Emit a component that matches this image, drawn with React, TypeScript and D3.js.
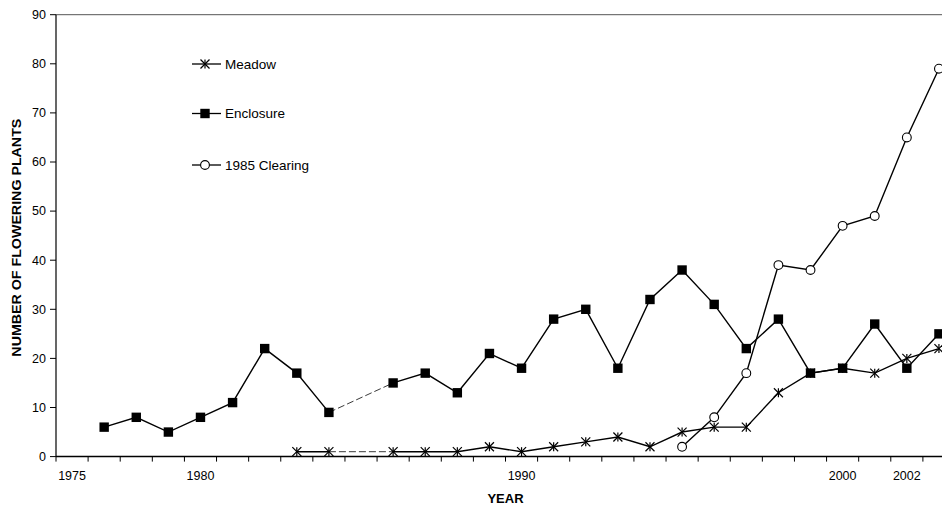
import React from "react";
import * as d3 from "d3";

const categoryCount = 28;
const tickLabels: { index: number; label: string }[] = [
  { index: 0, label: "1975" },
  { index: 4, label: "1980" },
  { index: 14, label: "1990" },
  { index: 24, label: "2000" },
  { index: 26, label: "2002" },
];

const meadow: [number, number][] = [
  [7, 1], [8, 1], [10, 1], [11, 1], [12, 1], [13, 2], [14, 1], [15, 2], [16, 3],
  [17, 4], [18, 2], [19, 5], [20, 6], [21, 6], [22, 13], [23, 17], [24, 18],
  [25, 17], [26, 20], [27, 22],
];
const enclosure: [number, number][] = [
  [1, 6], [2, 8], [3, 5], [4, 8], [5, 11], [6, 22], [7, 17], [8, 9], [10, 15],
  [11, 17], [12, 13], [13, 21], [14, 18], [15, 28], [16, 30], [17, 18], [18, 32],
  [19, 38], [20, 31], [21, 22], [22, 28], [23, 17], [24, 18], [25, 27], [26, 18],
  [27, 25],
];
const clearing: [number, number][] = [
  [19, 2], [20, 8], [21, 17], [22, 39], [23, 38], [24, 47], [25, 49], [26, 65], [27, 79],
];
const yTicks = [0, 10, 20, 30, 40, 50, 60, 70, 80, 90];
const legendItems = ["Meadow", "Enclosure", "1985 Clearing"];

const W = 942;
const H = 508;
const left = 56;
const plotRight = 955;
const top = 14.7;
const bottom = 456.6;
const font = "Arial, 'Liberation Sans', sans-serif";

const x = d3.scaleBand<number>().domain(d3.range(categoryCount)).range([left, plotRight]).padding(0);
const cx = (i: number) => (x(i) as number) + x.bandwidth() / 2;
const y = d3.scaleLinear().domain([0, 90]).range([bottom, top]);

function segments(data: [number, number][]) {
  const solid: [number, number][][] = [];
  const dashed: [number, number][][] = [];
  let cur: [number, number][] = [];
  data.forEach((d, k) => {
    if (k > 0 && d[0] - data[k - 1][0] > 1) {
      solid.push(cur);
      dashed.push([data[k - 1], d]);
      cur = [];
    }
    cur.push(d);
  });
  solid.push(cur);
  return { solid, dashed };
}

const line = d3.line<[number, number]>().x((d) => cx(d[0])).y((d) => y(d[1]));

function Star({ px, py }: { px: number; py: number }) {
  const s = 4.5;
  return (
    <g stroke="#000" strokeWidth={1.2}>
      <line x1={px - s} y1={py - s} x2={px + s} y2={py + s} />
      <line x1={px - s} y1={py + s} x2={px + s} y2={py - s} />
      <line x1={px} y1={py - s} x2={px} y2={py + s} />
    </g>
  );
}
function Square({ px, py }: { px: number; py: number }) {
  return <rect x={px - 4.7} y={py - 4.7} width={9.4} height={9.4} fill="#000" />;
}
function Circ({ px, py }: { px: number; py: number }) {
  return <circle cx={px} cy={py} r={4.4} fill="#fff" stroke="#000" strokeWidth={1.1} />;
}

function Series({ data, Marker }: { data: [number, number][]; Marker: any }) {
  const { solid, dashed } = segments(data);
  return (
    <g>
      {dashed.map((s, i) => (
        <path key={"d" + i} d={line(s) || ""} fill="none" stroke="#222" strokeWidth={0.9} strokeDasharray="7,3" />
      ))}
      {solid.map((s, i) => (
        <path key={"s" + i} d={line(s) || ""} fill="none" stroke="#000" strokeWidth={1.4} />
      ))}
      {data.map((d, i) => (
        <Marker key={i} px={cx(d[0])} py={y(d[1])} />
      ))}
    </g>
  );
}

export default function App() {
  const markers = [Star, Square, Circ];
  const legendY = [64, 113.5, 165];
  return (
    <svg width={W} height={H} style={{ position: "fixed", left: 0, top: 0, background: "#fff" }} fontFamily={font}>
      <rect x={0} y={0} width={W} height={H} fill="#fff" />
      <line x1={left} y1={top} x2={plotRight} y2={top} stroke="#555" strokeWidth={1} />
      <line x1={plotRight} y1={top} x2={plotRight} y2={bottom} stroke="#555" strokeWidth={1} />
      <line x1={left} y1={top} x2={left} y2={bottom} stroke="#000" strokeWidth={1.2} />
      {yTicks.map((t) => (
        <g key={t}>
          <line x1={left - 6} x2={left} y1={y(t)} y2={y(t)} stroke="#000" strokeWidth={1} />
          <text x={left - 10} y={y(t)} dy="0.35em" textAnchor="end" fontSize={12.5} fill="#000">
            {t}
          </text>
        </g>
      ))}
      <line x1={left} y1={bottom} x2={plotRight} y2={bottom} stroke="#000" strokeWidth={1.5} />
      {d3.range(categoryCount + 1).map((i) => {
        const px = left + i * x.bandwidth();
        return <line key={i} x1={px} x2={px} y1={bottom} y2={bottom + 5} stroke="#000" strokeWidth={1} />;
      })}
      {tickLabels.map((t) => (
        <text key={t.label} x={cx(t.index)} y={bottom + 19.5} dy="0.35em" textAnchor="middle" fontSize={12.5} fill="#000">
          {t.label}
        </text>
      ))}
      <text x={(left + plotRight) / 2} y={498} dy="0.35em" textAnchor="middle" fontSize={13} fontWeight="bold">
        YEAR
      </text>
      <text
        transform={`translate(16,${(top + bottom) / 2 + 2}) rotate(-90)`}
        textAnchor="middle"
        dy="0.35em"
        fontSize={13}
        fontWeight="bold"
        textLength={238}
        lengthAdjust="spacingAndGlyphs"
      >
        NUMBER OF FLOWERING PLANTS
      </text>
      <Series data={meadow} Marker={Star} />
      <Series data={enclosure} Marker={Square} />
      <Series data={clearing} Marker={Circ} />
      {legendItems.map((name, i) => {
        const M = markers[i];
        const ly = legendY[i];
        return (
          <g key={name}>
            <line x1={192} x2={221} y1={ly} y2={ly} stroke="#000" strokeWidth={1.3} />
            <M px={205} py={ly} />
            <text x={225} y={ly} dy="0.35em" fontSize={13.5} fill="#000">
              {name}
            </text>
          </g>
        );
      })}
    </svg>
  );
}
